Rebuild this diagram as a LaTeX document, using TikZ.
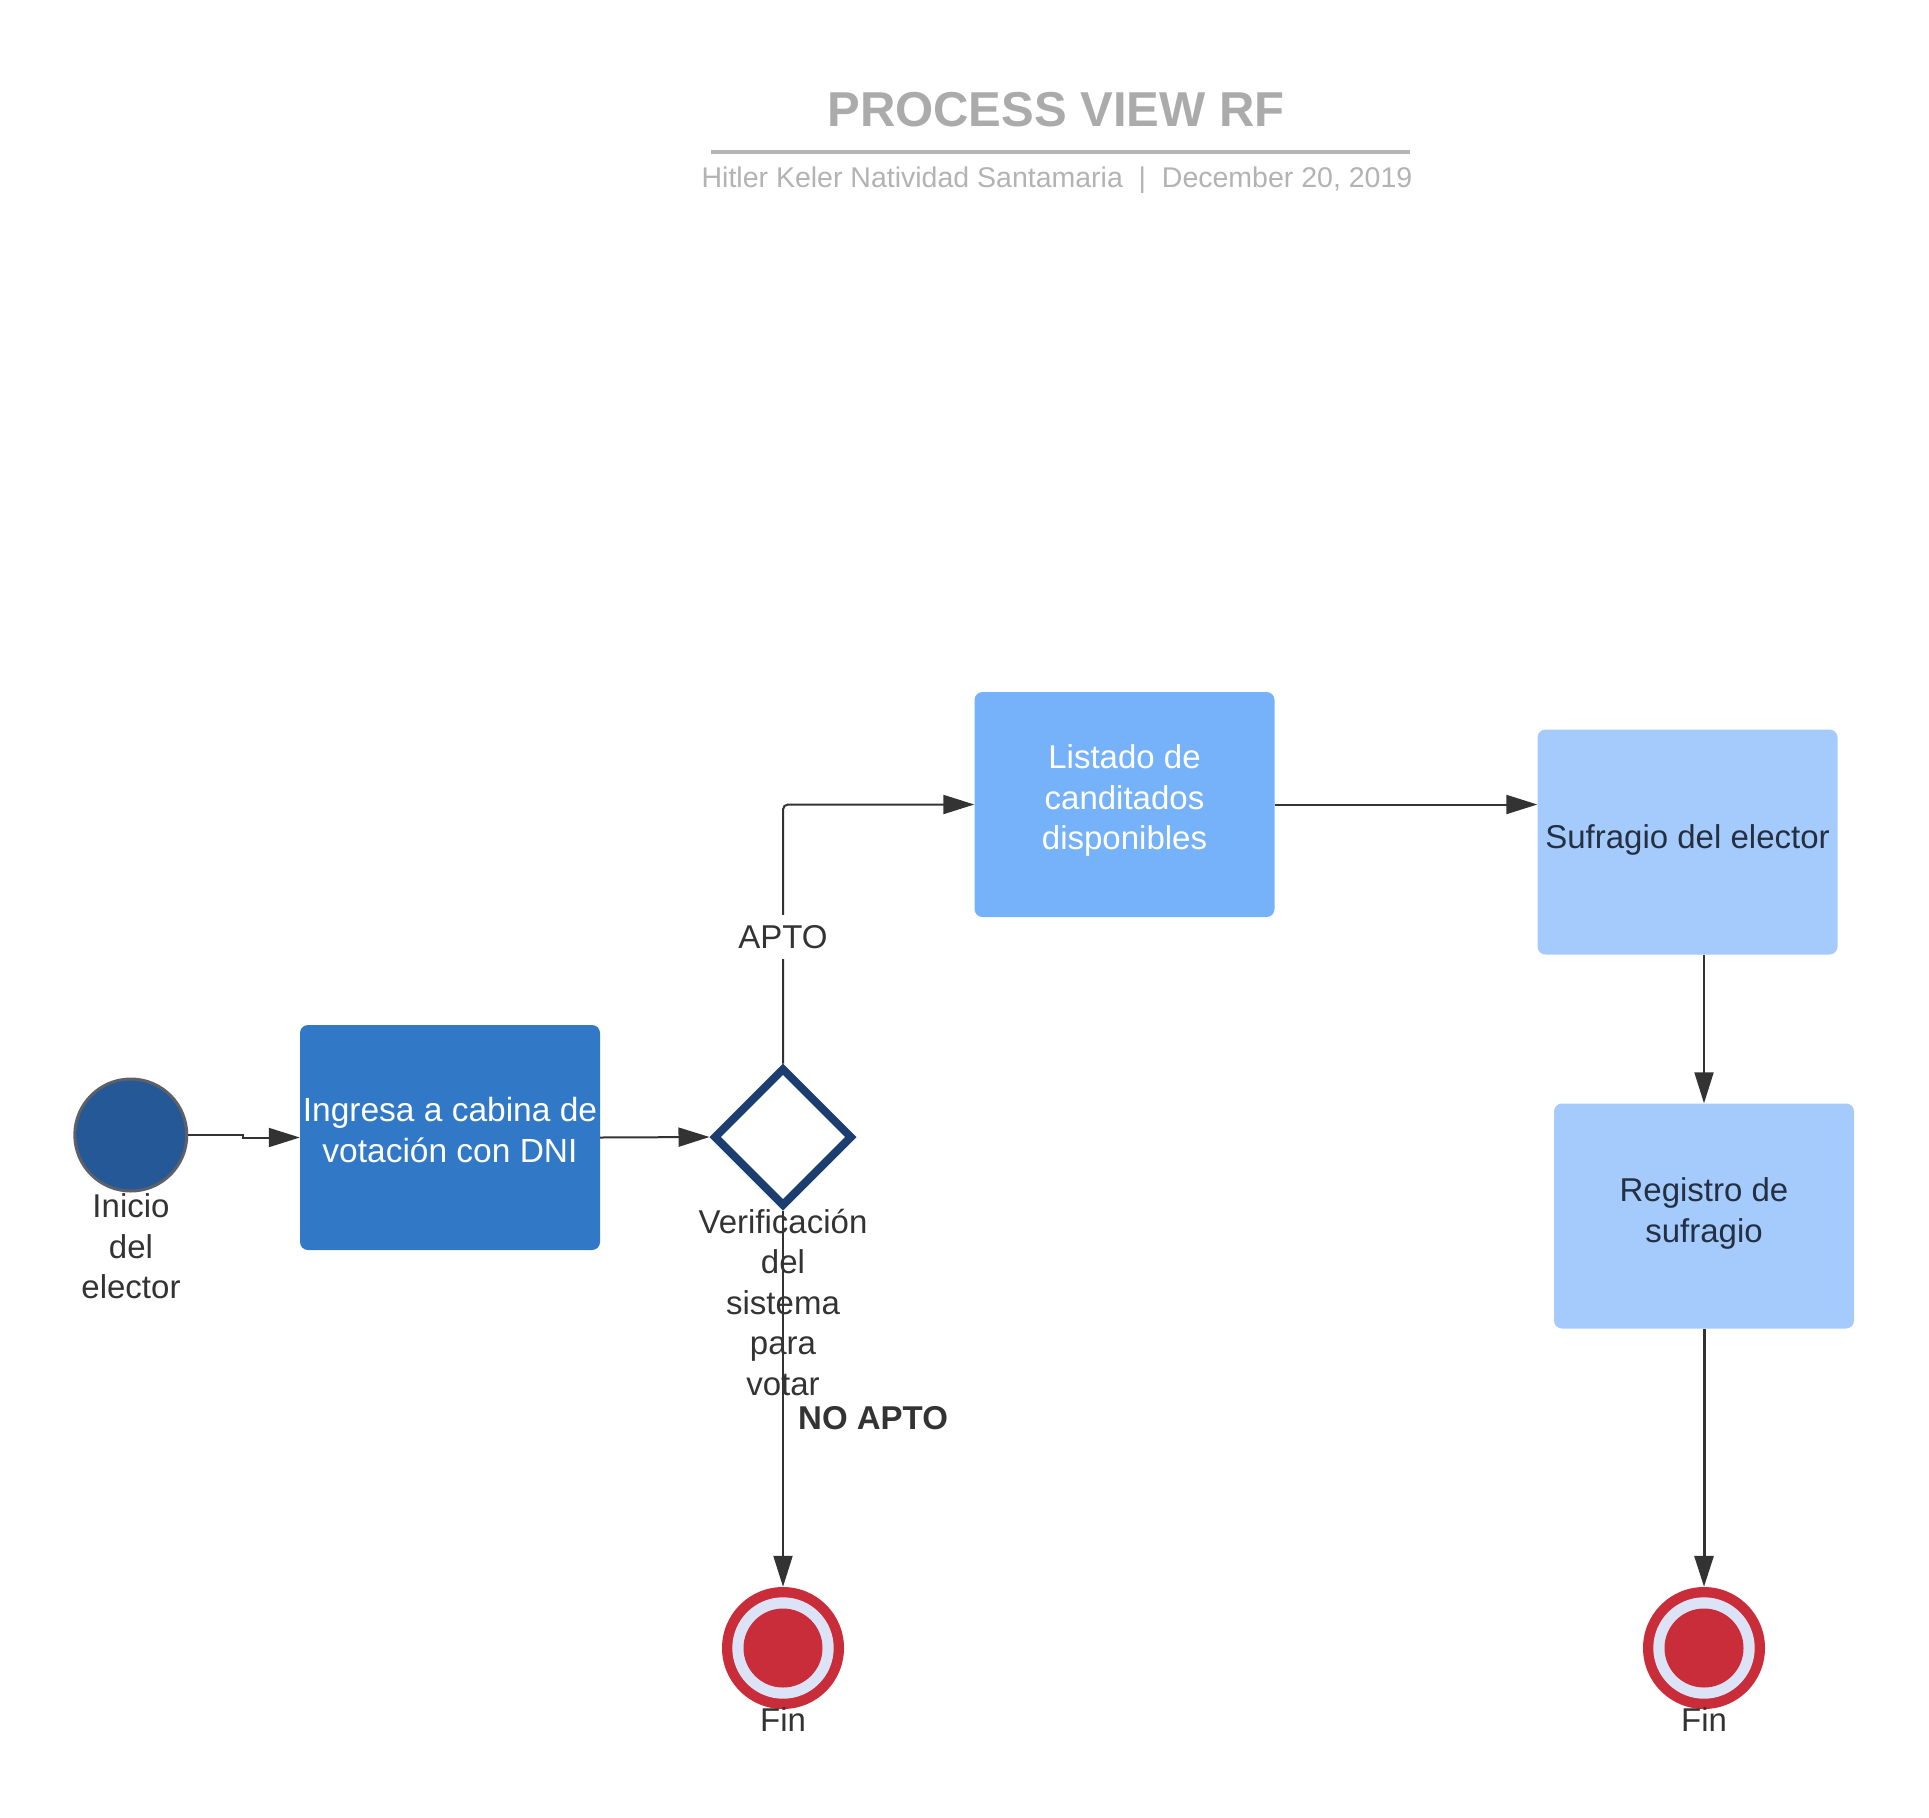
\documentclass[tikz,border=0pt]{standalone}
\usepackage{fontspec}
\setmainfont{Liberation Sans}
\usetikzlibrary{shapes.geometric,arrows.meta}
\definecolor{ttl}{HTML}{ABABAB}
\definecolor{sub}{HTML}{B3B3B3}
\definecolor{rulec}{HTML}{B5B5B5}
\definecolor{txt}{HTML}{333333}
\definecolor{boxtxt}{HTML}{243042}
\definecolor{ln}{HTML}{333333}
\definecolor{startfill}{HTML}{245896}
\definecolor{startline}{HTML}{5C6068}
\definecolor{darkbox}{HTML}{3178C7}
\definecolor{midbox}{HTML}{76B2FA}
\definecolor{lightbox}{HTML}{A4CBFC}
\definecolor{gate}{HTML}{1B3D70}
\definecolor{endred}{HTML}{C92D39}
\definecolor{endring}{HTML}{DDE3F7}
\begin{document}
\begin{tikzpicture}[x=1pt,y=-1pt,
  every node/.style={font=\fontsize{33}{40.5}\selectfont, text=txt},
  box/.style={rectangle, rounded corners=8pt, minimum width=300pt, minimum height=225pt, inner sep=0pt},
  arr/.style={draw=ln, line width=2pt, -{Triangle[length=31pt,width=19pt]}},
  startev/.style={circle, fill=startfill, draw=startline, line width=3pt, minimum size=112pt, inner sep=0pt},
  gatew/.style={diamond, draw=gate, fill=white, line width=8pt, minimum width=139pt, minimum height=139pt, inner sep=0pt},
  endev/.style={circle, fill=endred, minimum size=122pt, inner sep=0pt,
    path picture={
      \fill[endring] (path picture bounding box.center) circle[radius=50.7pt];
      \fill[endred] (path picture bounding box.center) circle[radius=39.5pt];}},
  lbl/.style={align=center, inner sep=0pt}
]
\fill[white] (0,0) rectangle (1929,1817);

% title block
\node[anchor=base, font=\bfseries\fontsize{49}{58}\selectfont, text=ttl] (title) at (1056,126.7) {PROCESS VIEW RF};
\coordinate (ruleL) at (711,151.7);
\coordinate (ruleR) at (1410,151.7);
\draw[rulec, line width=3.7pt] (ruleL) -- (ruleR);
\node[anchor=base, font=\fontsize{28.5}{34}\selectfont, text=sub] (subtitle) at (1057,187.7) {Hitler Keler Natividad Santamaria~~|~~December 20, 2019};

% nodes
\node[startev] (start) at (130.8,1135) {};
\node[lbl] (startlbl) at (131,1246.4) {Inicio\\del\\elector};

\node[box, fill=darkbox] (ingresa) at (450,1137.5) {};
\node[lbl, text=white, font=\fontsize{33.5}{41}\selectfont] (ingresatxt) at (450,1130.5) {Ingresa a cabina de\\votación con DNI};

\node[gatew] (gate) at (783,1137) {};
\node[lbl] (gatelbl) at (783,1302) {Verificación\\del\\sistema\\para\\votar};

\node[box, fill=midbox] (listado) at (1124.5,804.5) {};
\node[lbl, text=white] (listadotxt) at (1124.5,800.5) {Listado de\\canditados\\disponibles};
\node[box, fill=lightbox] (sufragio) at (1687.5,842) {};
\node[lbl, text=boxtxt] (sufragiotxt) at (1687.5,839.5) {Sufragio del elector};
\node[box, fill=lightbox] (registro) at (1704,1216) {};
\node[lbl, text=boxtxt] (registrotxt) at (1704,1213.5) {Registro de\\sufragio};

\node[endev] (fin1) at (783,1648) {};
\node[endev] (fin2) at (1704,1648) {};
\node[anchor=base] (fin1lbl) at (783,1731.7) {Fin};
\node[anchor=base] (fin2lbl) at (1704,1731.7) {Fin};

% connectors
\draw[arr] (start.east) -- ++(55,0) |- (ingresa.west);
\draw[arr] (ingresa.east) -- (gate.west);
\draw[arr, rounded corners=5pt] (gate.north) |- (listado.west);
\node[fill=white, inner xsep=2pt, inner ysep=10pt] (apto) at (783,937) {APTO};
\draw[arr] (gate.south) -- (fin1.north);
\node[anchor=base west, inner sep=0pt, font=\bfseries\fontsize{33}{40.5}\selectfont] (noapto) at (798,1429.3) {NO APTO};
\draw[arr] (listado.east) -- (listado.east -| sufragio.west);
\draw[arr] (registro.north |- sufragio.south) -- (registro.north);
\draw[arr, line width=3pt] (registro.south) -- (fin2.north);
\end{tikzpicture}
\end{document}
